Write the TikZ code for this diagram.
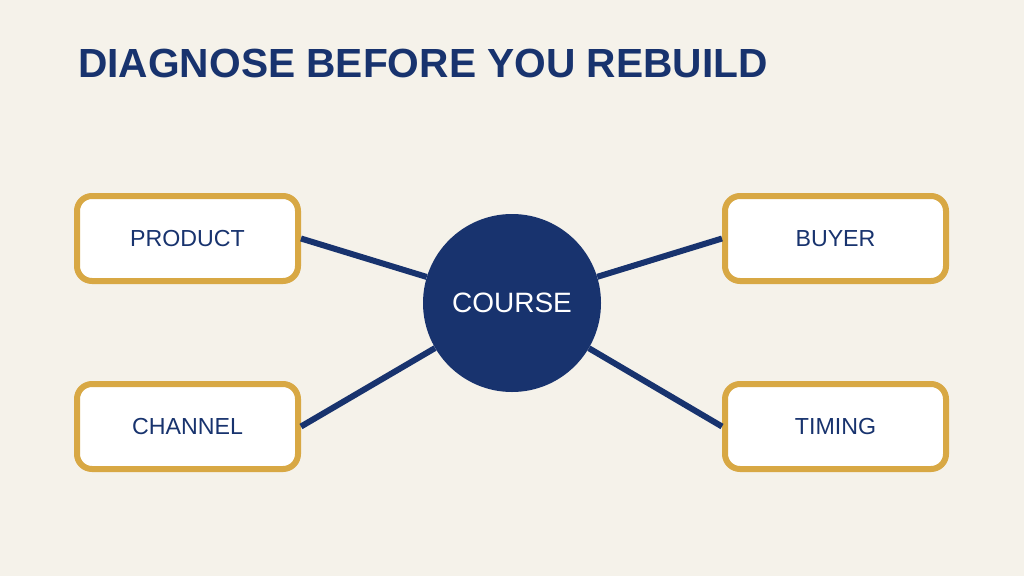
\documentclass[tikz,border=0pt]{standalone}
\usepackage{fontspec}
\setmainfont{Liberation Sans}
\definecolor{paper}{RGB}{245,242,234}
\definecolor{navy}{RGB}{24,51,110}
\definecolor{gold}{RGB}{216,168,68}

\begin{document}
\begin{tikzpicture}[x=1pt,y=-1pt,
    factor/.style={draw=gold, line width=6pt, fill=white, rounded corners=15pt,
        minimum width=221pt, minimum height=85pt, text=navy,
        font=\fontsize{23.2}{26}\selectfont},
    link/.style={draw=navy, line width=6pt}]
    % background
    \fill[paper] (0,0) rectangle (1024,576);
    \useasboundingbox (0,0) rectangle (1024,576);

    % title
    \node[anchor=base west, inner sep=0pt, text=navy,
        font=\fontsize{40.7}{46}\bfseries\selectfont] (title) at (78,77) {DIAGNOSE BEFORE YOU REBUILD};

    % center circle
    \node[circle, fill=navy, minimum size=178pt, inner sep=0pt, text=white,
        font=\fontsize{28}{32}\selectfont] (course) at (512,303) {\raisebox{-3pt}{COURSE}};

    % four factors
    \node[factor] (product) at (187.5,238.5) {PRODUCT};
    \node[factor] (channel) at (187.5,426.5) {CHANNEL};
    \node[factor] (buyer) at (835.5,238.5) {BUYER};
    \node[factor] (timing) at (835.5,426.5) {TIMING};

    % spokes
    \draw[link] (product.east) -- (course);
    \draw[link] (channel.east) -- (course);
    \draw[link] (buyer.west) -- (course);
    \draw[link] (timing.west) -- (course);
\end{tikzpicture}
\end{document}
